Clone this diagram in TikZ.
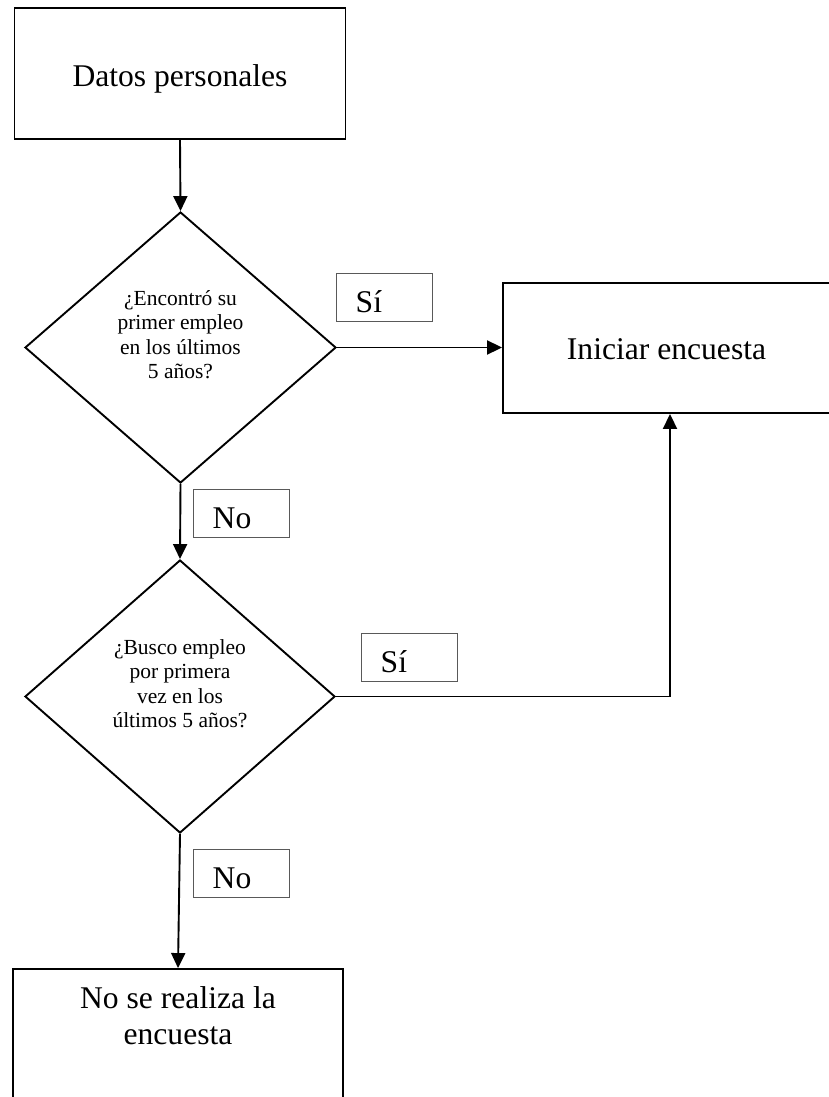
\documentclass[tikz,border=0pt]{standalone}
\usepackage{fontspec}
\setmainfont{Liberation Serif}
\usetikzlibrary{shapes.geometric,arrows.meta}
\tikzset{
  bigtext/.style={font=\fontsize{31.6}{36.3}\selectfont},
  smalltext/.style={font=\fontsize{21.5}{24.2}\selectfont},
  mainbox/.style={draw=black, line width=1.9pt, rectangle, inner sep=0pt},
  decision/.style={draw=black, line width=1.9pt, diamond, inner sep=0pt},
  lblbox/.style={draw=black!65, line width=1pt, rectangle, inner sep=0pt,
                 minimum width=96pt, minimum height=48pt},
  flow/.style={line width=1.9pt, -{Triangle[length=15pt,width=14pt]}},
  flowline/.style={line width=1.9pt}
}
\begin{document}
\begin{tikzpicture}[x=1pt,y=-1pt]
\useasboundingbox (0,0) rectangle (828,1097);
% main boxes
\node[mainbox, minimum width=331pt, minimum height=131pt,
      label={[bigtext, inner sep=0pt, anchor=base, yshift=-79.8pt]north:Datos personales}]
      (datos) at (180,73.5) {};
\node[mainbox, minimum width=327pt, minimum height=130pt,
      label={[bigtext, inner sep=0pt, anchor=base, yshift=-77.8pt]north:Iniciar encuesta}]
      (ini) at (666.5,348) {};
\node[mainbox, minimum width=330pt, minimum height=141pt,
      label={[bigtext, inner sep=0pt, align=center, anchor=north, yshift=-18.5pt]north:No se realiza la\\encuesta}]
      (nose) at (178,1039.5) {};
% decisions
\node[decision, minimum width=311pt, minimum height=271pt,
      label={[smalltext, inner sep=0pt, align=center, anchor=north, yshift=-79.5pt]north:¿Encontró su\\primer empleo\\en los últimos\\5 años?}]
      (d1) at (180.5,347.5) {};
\node[decision, minimum width=310pt, minimum height=273pt,
      label={[smalltext, inner sep=0pt, align=center, anchor=north, yshift=-80.5pt]north:¿Busco empleo\\por primera\\vez en los\\últimos 5 años?}]
      (d2) at (180,696.5) {};
% label boxes
\node[lblbox, label={[bigtext, inner sep=0pt, anchor=base west, xshift=20pt, yshift=9pt]south west:Sí}]
      (si1) at (384,297) {};
\node[lblbox, label={[bigtext, inner sep=0pt, anchor=base west, xshift=20pt, yshift=9pt]south west:No}]
      (no1) at (241,513) {};
\node[lblbox, label={[bigtext, inner sep=0pt, anchor=base west, xshift=20pt, yshift=9pt]south west:Sí}]
      (si2) at (409,657) {};
\node[lblbox, label={[bigtext, inner sep=0pt, anchor=base west, xshift=20pt, yshift=9pt]south west:No}]
      (no2) at (241,873) {};
% connectors
\coordinate (turn) at (670,696.5);
\draw[flow] (datos.south) -- (d1.north);
\draw[flow] (d1.east) -- (ini.west |- d1.east);
\draw[flow] (d1.south) -- (d2.north);
\draw[flowline] (d2.east) -- (turn);
\draw[flow] (turn) -- (ini.south -| turn);
\draw[flow] (d2.south) -- (nose.north);
\end{tikzpicture}
\end{document}
